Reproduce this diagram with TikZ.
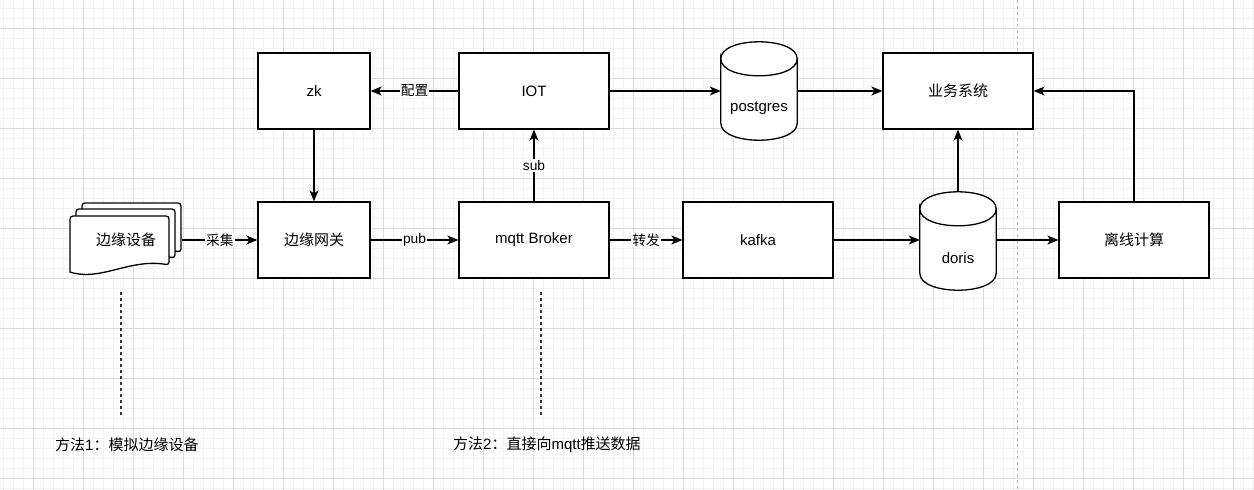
\documentclass[tikz,border=0pt]{standalone}
\usepackage{fontspec}
\setmainfont{Liberation Sans}
\newfontfamily\cjk{Noto Sans CJK SC}
\usetikzlibrary{arrows.meta}

\definecolor{gridminor}{HTML}{F2F2F2}
\definecolor{gridmajor}{HTML}{DCDCDC}
\definecolor{sepgray}{HTML}{BDBDBD}
\definecolor{guidegray}{HTML}{333333}

\tikzset{
  box/.style={draw, line width=1.3pt, fill=white, minimum width=150pt,
    minimum height=76pt, inner sep=0pt, font=\fontsize{15pt}{18pt}\selectfont},
  smallbox/.style={box, minimum width=112pt},
  db/.style={minimum width=76pt, minimum height=98pt, inner sep=0pt},
  dbtext/.style={font=\fontsize{15pt}{18pt}\selectfont, inner sep=0pt},
  arr/.style={line width=1.3pt, -{Stealth[length=11pt,width=9pt,inset=3pt]}},
  lbl/.style={fill=white, inner sep=1pt, font=\fontsize{13.75pt}{16pt}\selectfont},
  guide/.style={line width=1.3pt, guidegray, dash pattern=on 3pt off 3pt},
  note/.style={anchor=west, inner sep=0pt, font=\fontsize{15pt}{18pt}\selectfont}
}

% cylinder outline round a node
\newcommand{\dbshape}[1]{%
  \fill[white] ([yshift=-17pt]#1.north west)
    .. controls +(0pt,22.67pt) and +(0pt,22.67pt) .. ([yshift=-17pt]#1.north east)
    -- ([yshift=17pt]#1.south east)
    .. controls +(0pt,-22.67pt) and +(0pt,-22.67pt) .. ([yshift=17pt]#1.south west) -- cycle;
  \draw[line width=1.3pt] ([yshift=-17pt]#1.north west)
    .. controls +(0pt,22.67pt) and +(0pt,22.67pt) .. ([yshift=-17pt]#1.north east)
    .. controls +(0pt,-22.67pt) and +(0pt,-22.67pt) .. ([yshift=-17pt]#1.north west)
    -- ([yshift=17pt]#1.south west)
    .. controls +(0pt,-22.67pt) and +(0pt,-22.67pt) .. ([yshift=17pt]#1.south east)
    -- ([yshift=-17pt]#1.north east);
}
% one sheet of the stacked documents
\newcommand{\sheet}[2]{%
  \filldraw[fill=white, line width=1.3pt, rounded corners=3pt]
    (#1,#2+56) -- (#1,#2) -- (#1+99,#2) -- (#1+99,#2+49)
    {[sharp corners] .. controls (#1+60,#2+42) and (#1+30,#2+66) .. (#1,#2+56)} -- cycle;
}

\begin{document}
\begin{tikzpicture}[x=1pt, y=-1pt]
  \useasboundingbox (0,0) rectangle (1254,490);
  \fill[white] (0,0) rectangle (1254,490);

  % grid
  \foreach \x in {3,13,...,1253} \draw[gridminor, line width=0.8pt] (\x,0) -- (\x,490);
  \foreach \y in {8,18,...,488} \draw[gridminor, line width=0.8pt] (0,\y) -- (1254,\y);
  \foreach \x in {33,83,...,1233} \draw[gridmajor, line width=0.8pt] (\x,0) -- (\x,490);
  \foreach \y in {28,78,...,478} \draw[gridmajor, line width=0.8pt] (0,\y) -- (1254,\y);

  \draw[sepgray, line width=1pt, dash pattern=on 3pt off 3pt] (1017,0) -- (1017,490);

  % top row
  \node[smallbox] (zk) at (314,91) {zk};
  \node[box] (iot) at (534,91) {IOT};
  \node[db] (pg) at (759,91) {};
  \dbshape{pg}
  \node[dbtext] (pgtext) at ([yshift=-17pt]pg.center) {postgres};
  \node[box] (biz) at (958,91) {\cjk 业务系统};

  % bottom row
  \sheet{82}{203}
  \sheet{76}{209}
  \sheet{70}{216}
  \node[minimum width=112pt, minimum height=72pt, inner sep=0pt,
    font=\fontsize{15pt}{18pt}\selectfont] (dev) at (126,240) {\cjk 边缘设备};
  \node[smallbox] (gw) at (314,240) {\cjk 边缘网关};
  \node[box] (mqtt) at (534,240) {mqtt Broker};
  \node[box] (kafka) at (758,240) {kafka};
  \node[db] (doris) at (958,241) {};
  \dbshape{doris}
  \node[dbtext] (doristext) at ([yshift=-17pt]doris.center) {doris};
  \node[box] (off) at (1134,240) {\cjk 离线计算};

  % connectors
  \draw[arr] (iot) -- node[lbl] {\cjk 配置} (zk);
  \draw[arr] (zk) -- (gw);
  \draw[arr] (dev) -- node[lbl] {\cjk 采集} (gw);
  \draw[arr] (gw) -- node[lbl] {pub} (mqtt);
  \draw[arr] (mqtt) -- node[lbl] {sub} (iot);
  \draw[arr] (mqtt) -- node[lbl] {\cjk 转发} (kafka);
  \draw[arr] (iot) -- (pg);
  \draw[arr] (pg) -- (biz);
  \draw[arr] (kafka) -- (kafka -| doris.west);
  \draw[arr] (doris) -- (biz);
  \draw[arr] (doris.east |- off) -- (off);
  \draw[arr] (off) |- (biz);

  % the two ways to feed data
  \draw[guide] (121,292) -- (121,415);
  \draw[guide] (541,292) -- (541,415);
  \node[note] (way1) at (55,445) {{\cjk 方法}1{\cjk ：模拟边缘设备}};
  \node[note] (way2) at (453,445) {{\cjk 方法}2{\cjk ：直接向}mqtt{\cjk 推送数据}};
\end{tikzpicture}
\end{document}
